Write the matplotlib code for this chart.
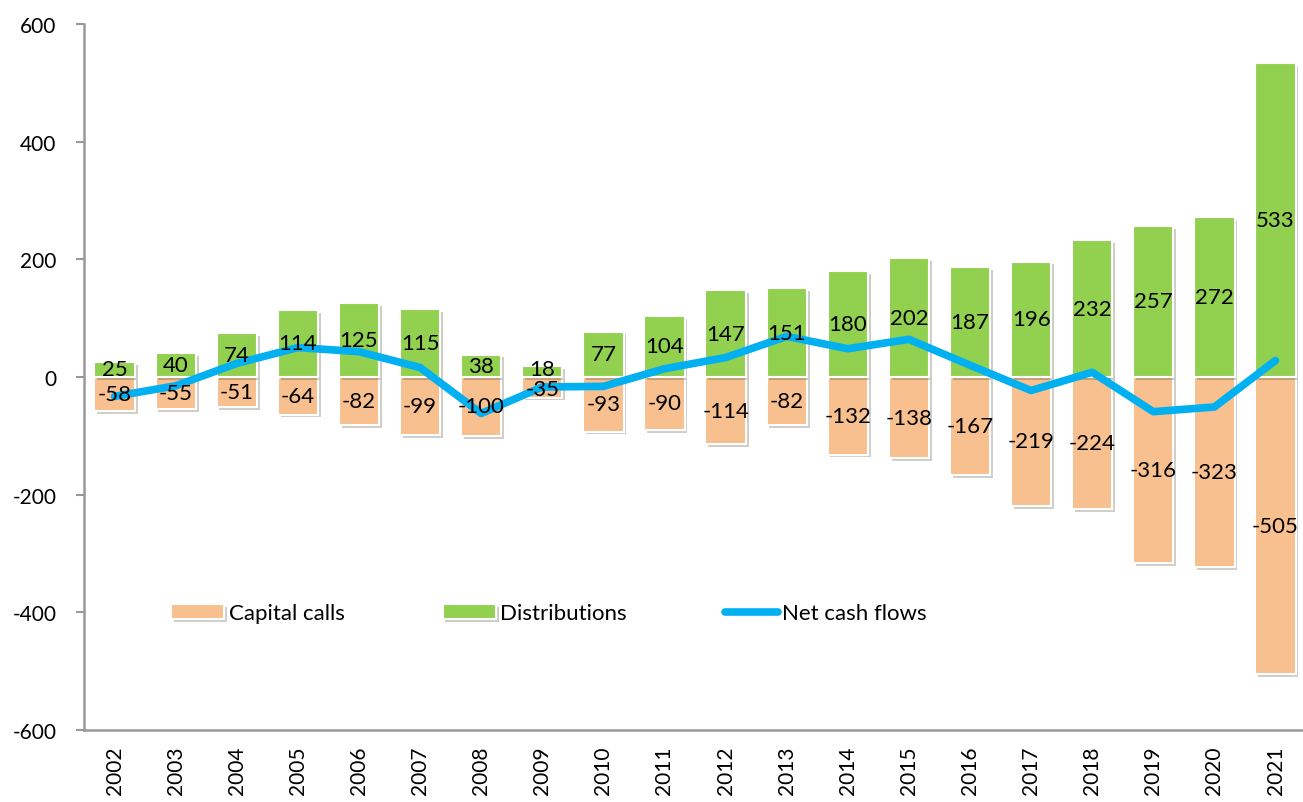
import numpy as np
import matplotlib
matplotlib.use("Agg")
import matplotlib.pyplot as plt
import matplotlib.patheffects as pe

plt.rcParams['font.family'] = ['Lato', 'DejaVu Sans']
plt.rcParams['axes.unicode_minus'] = False

anos = [str(a) for a in range(2002, 2022)]
capital_calls = [-58, -55, -51, -64, -82, -99, -100, -35, -93, -90,
                 -114, -82, -132, -138, -167, -219, -224, -316, -323, -505]
distribuicoes = [25, 40, 74, 114, 125, 115, 38, 18, 77, 104,
                 147, 151, 180, 202, 187, 196, 232, 257, 272, 533]
fluxo_liquido = [-33, -15, 23, 50, 43, 16, -62, -17, -16, 14,
                 33, 69, 48, 64, 20, -23, 8, -59, -51, 28]

cor_calls = '#F8BF8F'
cor_dist = '#92D050'
cor_net = '#00B0F0'

fig = plt.figure(figsize=(13.03, 8.03), dpi=100)
ax = fig.add_axes([0.0645, 0.0897, 0.9355, 0.8792])

x = np.arange(len(anos))
largura = 0.66
sombra = [pe.SimplePatchShadow(offset=(2, -2), alpha=0.25), pe.Normal()]

bars_calls = ax.bar(x, capital_calls, largura, color=cor_calls, edgecolor='white',
                    linewidth=1.5, label='Capital calls', zorder=2)
bars_dist = ax.bar(x, distribuicoes, largura, color=cor_dist, edgecolor='white',
                   linewidth=1.5, label='Distributions', zorder=2)
for b in list(bars_calls) + list(bars_dist):
    b.set_path_effects(sombra)

linha, = ax.plot(x, fluxo_liquido, color=cor_net, linewidth=5.5, solid_capstyle='round',
                 solid_joinstyle='round', label='Net cash flows', zorder=3)

# rotulos no centro de cada segmento (barras muito baixas: rotulo um pouco afastado do zero)
for xi, v in zip(x, capital_calls):
    ax.text(xi, min(v / 2, -20), str(v), ha='center', va='center', fontsize=16, zorder=4)
for xi, v in zip(x, distribuicoes):
    ax.text(xi, max(v / 2, 14), str(v), ha='center', va='center', fontsize=16, zorder=4)

ax.set_ylim(-600, 600)
ax.set_yticks([-600, -400, -200, 0, 200, 400, 600])
ax.set_xlim(-0.5, 19.45)
ax.set_xticks(x)
ax.set_xticklabels(anos, rotation=90)
ax.tick_params(axis='x', length=0, labelsize=15, pad=11)
ax.tick_params(axis='y', length=6, width=1.5, color='#999999', labelsize=15, pad=14)

for s in ['top', 'right']:
    ax.spines[s].set_visible(False)
for s in ['left', 'bottom']:
    ax.spines[s].set_color('#999999')
    ax.spines[s].set_linewidth(1.8)

ax.legend(handles=[bars_calls, bars_dist, linha], loc='center left',
          bbox_to_anchor=(0.055, 0.165), ncol=3, frameon=False,
          fontsize=16, columnspacing=4.4, handlelength=2.4, handletextpad=0.2)

fig.savefig('out.png', dpi=100)
